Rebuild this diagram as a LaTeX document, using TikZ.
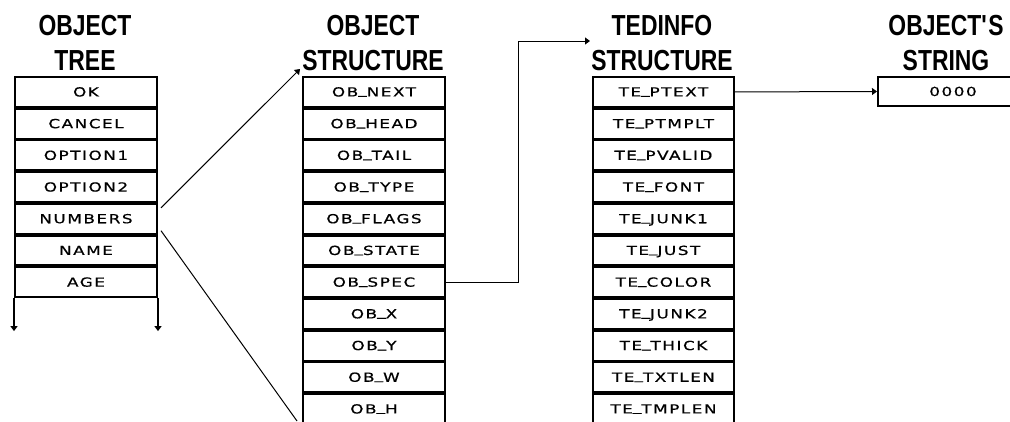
\documentclass[tikz,border=0pt]{standalone}
\usepackage{fontspec}
\usetikzlibrary{arrows.meta,calc}
\newfontfamily\pixfont{DejaVu Sans}[FakeStretch=1.35,LetterSpace=12,FakeBold=0.6]
\newfontfamily\ttlfont{Liberation Sans}[FakeStretch=0.79]
\newcommand\usc{\raisebox{2.5pt}{\_}}
\begin{document}
\begin{tikzpicture}[x=1pt,y=-1pt,
  rowbox/.style={draw, line width=2pt, minimum width=142pt, minimum height=29.9pt,
    inner sep=0pt, anchor=north west, text height=9pt, text depth=0pt,
    font=\pixfont\fontsize{12.5}{12.5}\selectfont},
  ttl/.style={anchor=base, inner sep=0pt, font=\ttlfont\bfseries\fontsize{29}{35}\selectfont},
  conn/.style={line width=1pt},
  tip/.style={-{Triangle[length=5pt,width=7pt]}}]
\useasboundingbox (0,0) rectangle (1010,421);
% titles
\node[ttl] (tt1) at (85,35) {OBJECT};
\node[ttl] (tt2) at (85,70) {TREE};
\node[ttl] (ot1) at (373,35) {OBJECT};
\node[ttl] (ot2) at (373,70) {STRUCTURE};
\node[ttl] (te1) at (662,35) {TEDINFO};
\node[ttl] (te2) at (662,70) {STRUCTURE};
\node[ttl] (st1) at (946,35) {OBJECT\textquotesingle S};
\node[ttl] (st2) at (946,70) {STRING};
% object tree
\foreach \t [count=\i from 0] in {OK,CANCEL,OPTION1,OPTION2,NUMBERS,NAME,AGE}
  \node[rowbox] (t\i) at (14,{76+\i*31.7}) {\t};
% object structure
\foreach \t [count=\i from 0] in {OB\usc NEXT,OB\usc HEAD,OB\usc TAIL,OB\usc TYPE,OB\usc FLAGS,OB\usc STATE,OB\usc SPEC,OB\usc X,OB\usc Y,OB\usc W,OB\usc H}
  \node[rowbox] (m\i) at (302,{76+\i*31.7}) {\t};
% tedinfo structure
\foreach \t [count=\i from 0] in {TE\usc PTEXT,TE\usc PTMPLT,TE\usc PVALID,TE\usc FONT,TE\usc JUNK1,TE\usc JUST,TE\usc COLOR,TE\usc JUNK2,TE\usc THICK,TE\usc TXTLEN,TE\usc TMPLEN}
  \node[rowbox, minimum width=141pt] (e\i) at (592,{76+\i*31.7}) {\t};
% string
\node[rowbox, minimum width=150pt, minimum height=29pt] (s0) at (877,76) {0000};
% tree continuation arrows
\draw[line width=2pt, tip] (t6.south west) -- ($(t6.south west)+(0,33)$);
\draw[line width=2pt, tip] (t6.south east) -- ($(t6.south east)+(0,33)$);
% connectors
\coordinate (cut) at (297,421);
\coordinate (bend) at (518,41);
\draw[conn, tip] ($(t4.north east)+(3,5)$) -- ($(m0.north west)+(-2,-7)$);
\draw[conn] ($(t4.south east)+(3,-4)$) -- (cut);
\draw[conn, tip] (m6.east) -| (bend) -- ($(e0.north west |- bend)+(-2,0)$);
\draw[conn, tip] (e0.east) -- (s0.west);
\end{tikzpicture}
\end{document}
